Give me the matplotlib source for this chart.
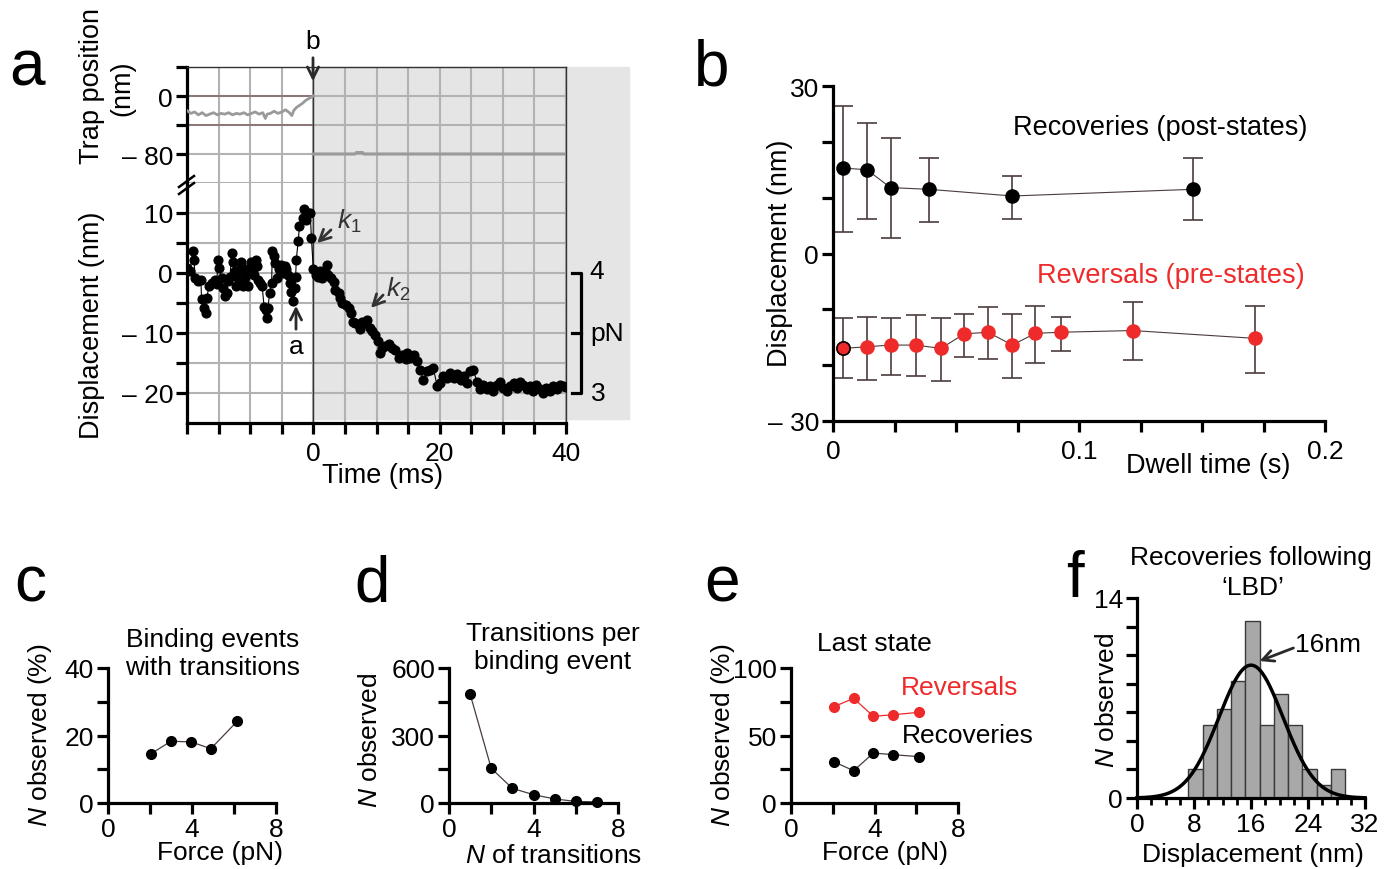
import numpy as np
import matplotlib
matplotlib.use("Agg")
import matplotlib.pyplot as plt
from matplotlib.patches import Rectangle, FancyArrowPatch
from matplotlib.lines import Line2D

plt.rcParams['font.family'] = ['Liberation Sans', 'DejaVu Sans']
plt.rcParams['mathtext.fontset'] = 'custom'
plt.rcParams['mathtext.rm'] = 'Liberation Sans'
plt.rcParams['mathtext.it'] = 'Liberation Sans:italic'

# ---- panel a: trap position and displacement trace
trap_pre_t = [-20, -19.4, -18.8, -18.2, -17.6, -17.0, -16.4, -15.8, -15.2, -14.6, -14.0, -13.4,
              -12.8, -12.2, -11.6, -11.0, -10.4, -9.8, -9.2, -8.6, -8.0, -7.6, -7.3, -6.8, -6.2,
              -5.6, -5.0, -4.4, -3.8, -3.4, -3.1, -2.7, -2.2, -1.7, -1.2, -0.6, 0]
trap_pre_nm = [-20, -24, -22, -26, -23, -27, -25, -23, -26, -24, -25, -23, -26, -24, -25, -23,
               -26, -24, -22, -25, -23, -31, -25, -24, -21, -24, -22, -19, -23, -27, -20, -16,
               -13, -10, -6, -3, 0]
trap_post_t = [0, 6.6, 6.8, 7.8, 8.0, 40]
trap_post_nm = [-80, -80, -78, -78, -80, -80]

disp_t = [-20.0, -19.5, -19.1, -18.9, -18.7, -18.2, -17.8, -17.7, -17.3, -17.0, -16.9, -16.5,
          -16.1, -15.6, -15.3, -15.1, -14.9, -14.5, -14.3, -14.0, -13.7, -13.5, -13.2, -12.9,
          -12.7, -12.4, -12.2, -11.9, -11.6, -11.4, -11.1, -10.8, -10.6, -10.3, -10.1, -9.8,
          -9.6, -9.4, -9.1, -8.9, -8.7, -8.4, -8.1, -7.8, -7.5, -7.3, -7.2, -6.9, -6.6, -6.5,
          -6.2, -6.0, -5.7, -5.4, -5.1, -4.8, -4.5, -4.3, -4.0, -3.7, -3.5, -3.2, -2.9, -2.8,
          -2.7, -2.4, -2.2, -1.7, -1.4, -1.1, -0.8, -0.5, -0.3,
          0.0, 0.4, 0.8, 1.1, 1.4, 1.8, 2.2, 2.4, 2.8, 3.2, 3.5, 4.0, 4.3, 4.6, 5.1, 5.6, 5.9,
          6.3, 6.6, 7.2, 7.4, 7.7, 8.2, 8.5, 9.0, 9.3, 9.8, 10.2, 10.6, 10.9, 11.4, 11.9, 12.4,
          13.0, 13.5, 14.0, 14.6, 14.8, 15.3, 15.9, 16.4, 16.9, 17.4, 18.0, 18.5, 19.0, 19.6,
          20.1, 20.6, 21.2, 21.7, 22.2, 22.7, 23.3, 23.8, 24.3, 24.8, 25.3, 25.9, 26.4, 26.9,
          27.5, 28.0, 28.5, 29.0, 29.6, 30.1, 30.6, 31.1, 31.7, 32.2, 32.7, 33.2, 33.8, 34.3,
          34.8, 35.3, 35.9, 36.4, 36.9, 37.4, 38.0, 38.5, 39.0, 39.6, 40.0]
disp_nm = [0.8, 0.3, 3.6, 2.2, -0.8, -1.4, -1.1, -4.4, -5.8, -6.7, -4.2, -2.2,
           -1.7, -1.1, -1.9, 2.2, 0.8, -0.8, -2.5, -3.9, -3.3, -1.4, -0.6, 3.3,
           1.9, 0.3, -2.2, -0.8, 0.6, 1.9, -2.2, -0.6, 0.6, -2.2, 0.0, 1.9,
           0.6, -0.3, 2.2, 1.1, -1.1, -1.7, -2.2, -5.6, -6.1, -7.5, -5.8, -3.3, -1.7, 3.6,
           2.8, 1.7, -0.8, 0.6, 1.4, 0.0, 1.1, 0.6, -0.3, -1.7, -3.1, -4.7, -2.5, -0.6,
           2.2, 5.3, 7.8, 9.2, 10.6, 8.9, 10.0, 10.0, 5.8,
           0.6, -0.3, -0.6, 0.4, -0.8, 0.3, 1.4, -0.4, -0.8, -1.5, -2.8, -3.3, -4.2, -5.0, -5.3, -5.9,
           -6.7, -8.1, -8.3, -8.6, -9.4, -8.1, -8.3, -7.8, -9.2, -9.7, -10.3, -11.4, -13.4, -12.5,
           -12.2, -11.9, -12.5, -12.8, -14.2, -13.6, -14.4, -13.3, -14.2, -13.6, -14.7, -16.1,
           -17.8, -16.4, -16.1, -15.8, -18.9, -18.3, -17.2, -17.5, -16.7, -17.5, -16.9, -17.8,
           -17.2, -18.3, -16.4, -16.1, -18.1, -19.4, -18.6, -19.4, -18.9, -19.7, -18.6, -18.1,
           -19.2, -19.7, -18.9, -18.3, -19.2, -18.1, -18.6, -19.4, -18.9, -19.7, -18.6, -19.4,
           -20.0, -19.2, -19.7, -18.9, -19.4, -18.6, -18.9, -19.0]

# ---- panel b: dwell time vs displacement
rec_t = [0.0042, 0.0138, 0.0234, 0.0389, 0.0729, 0.1465]
rec_nm = [15.3, 15.0, 11.8, 11.5, 10.3, 11.5]
rec_hi = [26.4, 23.4, 20.6, 17.1, 13.9, 17.1]
rec_lo = [3.9, 6.2, 2.8, 5.6, 6.2, 6.0]
rev_t = [0.0042, 0.0138, 0.0234, 0.0336, 0.0439, 0.0533, 0.0630, 0.0729, 0.0822, 0.0927, 0.1218, 0.1716]
rev_nm = [-17.0, -16.7, -16.4, -16.4, -17.0, -14.4, -14.1, -16.4, -14.3, -14.1, -13.8, -15.2]
rev_hi = [-11.6, -11.4, -11.6, -11.1, -11.6, -10.8, -9.6, -10.8, -9.4, -11.4, -8.6, -9.4]
rev_lo = [-22.3, -22.6, -21.7, -22.0, -22.9, -18.5, -18.9, -22.3, -19.7, -17.4, -19.1, -21.4]

# ---- panels c, d, e
force_pn = [2.05, 3.0, 3.95, 4.9, 6.15]
binding_pct = [14.6, 18.3, 18.1, 16.1, 24.2]
n_trans = [1, 2, 3, 4, 5, 6, 7]
n_obs = [484, 154, 65, 37, 18, 7, 5]
reversal_pct = [71.3, 77.5, 64.2, 65.4, 67.2]
recovery_pct = [30.6, 23.9, 37.0, 35.8, 34.3]

# ---- panel f: histogram + gaussian fit
f_bin_left = [7.2, 9.2, 11.2, 13.2, 15.2, 17.2, 19.2, 21.2, 23.2, 25.2, 27.2]
f_counts = [2.0, 5.1, 6.2, 8.2, 12.4, 5.1, 7.3, 5.1, 2.0, 0.9, 2.0]
fit_mu, fit_sigma, fit_amp = 16.0, 4.5, 9.3

RED = '#ee2a2a'
GRID = '#b2b2b2'
LINE = '#4a3c3c'
FS = 19

W, H = 1400, 870
fig = plt.figure(figsize=(14, 8.7), dpi=100)


def box(l, t, r, b):
    return [l / W, 1 - b / H, (r - l) / W, (b - t) / H]


def P(x, y):
    return (x / W, 1 - y / H)


def txt(x, y, s, size=FS, **kw):
    kw.setdefault('ha', 'center')
    kw.setdefault('va', 'center')
    fig.text(x / W, 1 - y / H, s, fontsize=size, **kw)


def arrow(x0, y0, x1, y1, color='#2a2a2a'):
    fig.add_artist(FancyArrowPatch(P(x0, y0), P(x1, y1), transform=fig.transFigure,
                                   arrowstyle='->', mutation_scale=20, lw=2, color=color))


def style(ax):
    ax.spines['top'].set_visible(False)
    ax.spines['right'].set_visible(False)
    ax.spines['left'].set_linewidth(2.3)
    ax.spines['bottom'].set_linewidth(2.3)
    ax.tick_params(width=2.3, length=8, labelsize=FS, direction='out', pad=2)


# ---------------- panel a
ax_tr = fig.add_axes(box(187, 68, 566, 184))
ax_tr.set_xlim(-20, 40)
ax_tr.set_ylim(-120, 40)
style(ax_tr)
ax_tr.spines['bottom'].set_visible(False)
for s in ['top', 'right']:
    ax_tr.spines[s].set_visible(True)
    ax_tr.spines[s].set_linewidth(1)
    ax_tr.spines[s].set_color('#333333')
ax_tr.set_xticks(np.arange(-20, 41, 5))
ax_tr.tick_params(axis='x', length=0, labelbottom=False)
ax_tr.set_yticks([40, 0, -40, -80])
ax_tr.set_yticklabels(['', '0', '', '\u2013 80'])
ax_tr.grid(True, color=GRID, lw=1.5, zorder=1)
ax_tr.set_axisbelow(True)
ax_tr.add_patch(Rectangle((0, -120), 50, 160, color='#e5e5e5', clip_on=False, zorder=0))
ax_tr.axhline(-120, color=GRID, lw=1.5, clip_on=False, zorder=1)
ax_tr.plot([-20, 0], [0, 0], color='#8a7272', lw=1.3, zorder=1.6)
ax_tr.plot([-20, 0], [-40, -40], color='#8a7272', lw=1.3, zorder=1.6)
ax_tr.axvline(0, color='#333333', lw=1, zorder=1.7)
ax_tr.plot(trap_pre_t, trap_pre_nm, color='#9a9a9a', lw=2, zorder=3)
ax_tr.plot(trap_post_t, trap_post_nm, color='#9a9a9a', lw=2.2, zorder=3)

ax_d = fig.add_axes(box(187, 184, 566, 424))
ax_d.set_xlim(-20, 40)
ax_d.set_ylim(-25, 15)
style(ax_d)
ax_d.spines['right'].set_visible(True)
ax_d.spines['right'].set_linewidth(1)
ax_d.spines['right'].set_color('#333333')
ax_d.set_xticks(np.arange(-20, 41, 5))
ax_d.set_xticklabels([str(v) if v in (0, 20, 40) else '' for v in range(-20, 41, 5)])
ax_d.set_yticks(np.arange(-20, 11, 5))
ylab = {10: '10', 0: '0', -10: '\u2013 10', -20: '\u2013 20'}
ax_d.set_yticklabels([ylab.get(v, '') for v in range(-20, 11, 5)])
ax_d.tick_params(axis='x', pad=5)
ax_d.grid(True, color=GRID, lw=1.5, zorder=1)
ax_d.set_axisbelow(True)
ax_d.add_patch(Rectangle((0, -24.3), 50, 39.3, color='#e5e5e5', clip_on=False, zorder=0))
ax_d.axvline(0, color='#333333', lw=1, zorder=1.7)
ax_d.plot(disp_t, disp_nm, '-', color='k', lw=0.8, marker='o', ms=6.3, mfc='k', mec='k', zorder=3)

# pN scale bracket
ax_d.plot([40.9, 42.4, 42.4, 40.9], [0, 0, -20, -20], color='k', lw=2.3, clip_on=False)
ax_d.plot([40.9, 42.4], [-10, -10], color='k', lw=2.3, clip_on=False)
txt(597, 272, '4')
txt(607, 334, 'pN')
txt(598, 394, '3')

# axis break marks
for dy in (0, 7):
    fig.add_artist(Line2D([179 / W, 194 / W], [1 - (188 + dy) / H, 1 - (177 + dy) / H],
                          color='k', lw=1.8))

txt(92, 86, 'Trap position', size=19.5, rotation=90)
txt(122, 88, '(nm)', size=19.5, rotation=90)
txt(92, 325, 'Displacement (nm)', size=19.5, rotation=90)
txt(383, 476, 'Time (ms)', size=19.5)

txt(313, 42, 'b')
arrow(313, 56, 313, 85)
txt(296, 347, 'a')
arrow(296, 333, 296, 304)
txt(349, 221, r'$\mathit{k}_{\mathit{1}}$', color='#333333')
arrow(333, 229, 315, 246, color='#333333')
txt(398, 289, r'$\mathit{k}_{\mathit{2}}$', color='#333333')
arrow(385, 294, 369, 311, color='#333333')

# ---------------- panel b
ax_b = fig.add_axes(box(833, 87, 1325, 422))
ax_b.set_xlim(0, 0.2)
ax_b.set_ylim(-30, 30)
style(ax_b)
ax_b.set_xticks(np.linspace(0, 0.2, 9))
ax_b.set_xticklabels(['0', '', '', '', '0.1', '', '', '', '0.2'])
ax_b.set_yticks(np.arange(-30, 31, 10))
ax_b.set_yticklabels(['\u2013 30', '', '', '0', '', '', '30'])
ax_b.tick_params(axis='x', pad=5)

rec_err = [np.array(rec_nm) - np.array(rec_lo), np.array(rec_hi) - np.array(rec_nm)]
rev_err = [np.array(rev_nm) - np.array(rev_lo), np.array(rev_hi) - np.array(rev_nm)]
ax_b.errorbar(rec_t, rec_nm, yerr=rec_err, fmt='-o', color=LINE, lw=0.8, ms=9.5, mfc='k', mec='k',
              ecolor=LINE, elinewidth=1.2, capsize=7, capthick=1.2, clip_on=False)
ax_b.errorbar(rev_t, rev_nm, yerr=rev_err, fmt='-o', color=LINE, lw=0.8, ms=9.5, mfc=RED, mec=RED,
              ecolor=LINE, elinewidth=1.2, capsize=7, capthick=1.2, clip_on=False)
ax_b.plot(rev_t[:1], rev_nm[:1], 'o', ms=9.5, mfc=RED, mec='k', mew=1.2, zorder=5)

txt(1160, 128, 'Recoveries (post-states)', size=19.5)
txt(1171, 276, 'Reversals (pre-states)', size=19.5, color=RED)
txt(780, 253, 'Displacement (nm)', size=19.5, rotation=90)
txt(1208, 466, 'Dwell time (s)', size=19.5)

# ---------------- panel c
ax_c = fig.add_axes(box(108, 669, 276, 804))
style(ax_c)
ax_c.set_xlim(0, 8)
ax_c.set_ylim(0, 40)
ax_c.set_xticks([0, 2, 4, 6, 8])
ax_c.set_xticklabels(['0', '', '4', '', '8'])
ax_c.set_yticks([0, 10, 20, 30, 40])
ax_c.set_yticklabels(['0', '', '20', '', '40'])
ax_c.plot(force_pn, binding_pct, '-o', color=LINE, lw=0.9, ms=7, mfc='k', mec='k')
txt(213, 640, 'Binding events')
txt(213, 668, 'with transitions')
txt(40, 735, r'$\mathit{N}$ observed (%)', rotation=90)
txt(220, 853, 'Force (pN)')

# ---------------- panel d
ax_dd = fig.add_axes(box(449, 669, 618, 804))
style(ax_dd)
ax_dd.set_xlim(0, 8)
ax_dd.set_ylim(0, 600)
ax_dd.set_xticks([0, 2, 4, 6, 8])
ax_dd.set_xticklabels(['0', '', '4', '', '8'])
ax_dd.set_yticks([0, 150, 300, 450, 600])
ax_dd.set_yticklabels(['0', '', '300', '', '600'])
ax_dd.plot(n_trans, n_obs, '-o', color=LINE, lw=0.9, ms=7, mfc='k', mec='k', clip_on=False)
txt(553, 634, 'Transitions per')
txt(553, 662, 'binding event')
txt(370, 740, r'$\mathit{N}$ observed', rotation=90)
txt(553, 856, r'$\mathit{N}$ of transitions')

# ---------------- panel e
ax_e = fig.add_axes(box(791, 669, 958, 804))
style(ax_e)
ax_e.set_xlim(0, 8)
ax_e.set_ylim(0, 100)
ax_e.set_xticks([0, 2, 4, 6, 8])
ax_e.set_xticklabels(['0', '', '4', '', '8'])
ax_e.set_yticks([0, 25, 50, 75, 100])
ax_e.set_yticklabels(['0', '', '50', '', '100'])
ax_e.plot(force_pn, reversal_pct, '-o', color=RED, lw=0.9, ms=7, mfc=RED, mec=RED)
ax_e.plot(force_pn, recovery_pct, '-o', color=LINE, lw=0.9, ms=7, mfc='k', mec='k')
txt(874, 644, 'Last state')
txt(960, 688, 'Reversals', color=RED)
txt(968, 736, 'Recoveries')
txt(723, 735, r'$\mathit{N}$ observed (%)', rotation=90)
txt(885, 853, 'Force (pN)')

# ---------------- panel f
ax_f = fig.add_axes(box(1137, 599, 1365, 799))
style(ax_f)
ax_f.set_xlim(0, 32)
ax_f.set_ylim(0, 14)
ax_f.set_xticks([0, 8, 16, 24, 32])
ax_f.set_xticks(np.arange(0, 33, 2), minor=True)
ax_f.tick_params(axis='x', which='minor', width=2, length=5)
ax_f.set_yticks(np.arange(0, 15, 2))
ax_f.set_yticklabels(['0', '', '', '', '', '', '', '14'])
ax_f.bar(f_bin_left, f_counts, width=2, align='edge', color='#a8a8a8', edgecolor='#3a3a3a', lw=1)
xs = np.linspace(0, 32, 300)
ax_f.plot(xs, fit_amp * np.exp(-(xs - fit_mu) ** 2 / (2 * fit_sigma ** 2)), color='k', lw=2.5, clip_on=False)
txt(1251, 558, 'Recoveries following')
txt(1253, 588, '\u2018LBD\u2019')
txt(1107, 700, r'$\mathit{N}$ observed', rotation=90)
txt(1253, 855, 'Displacement (nm)')
txt(1328, 645, '16nm')
arrow(1296, 648, 1257, 663)

# panel letters
for x, y, s in [(27, 68, 'a'), (712, 68, 'b'), (30, 585, 'c'), (372, 585, 'd'), (722, 585, 'e'), (1075, 580, 'f')]:
    txt(x, y, s, size=46)

fig.savefig('out.png', dpi=100)
